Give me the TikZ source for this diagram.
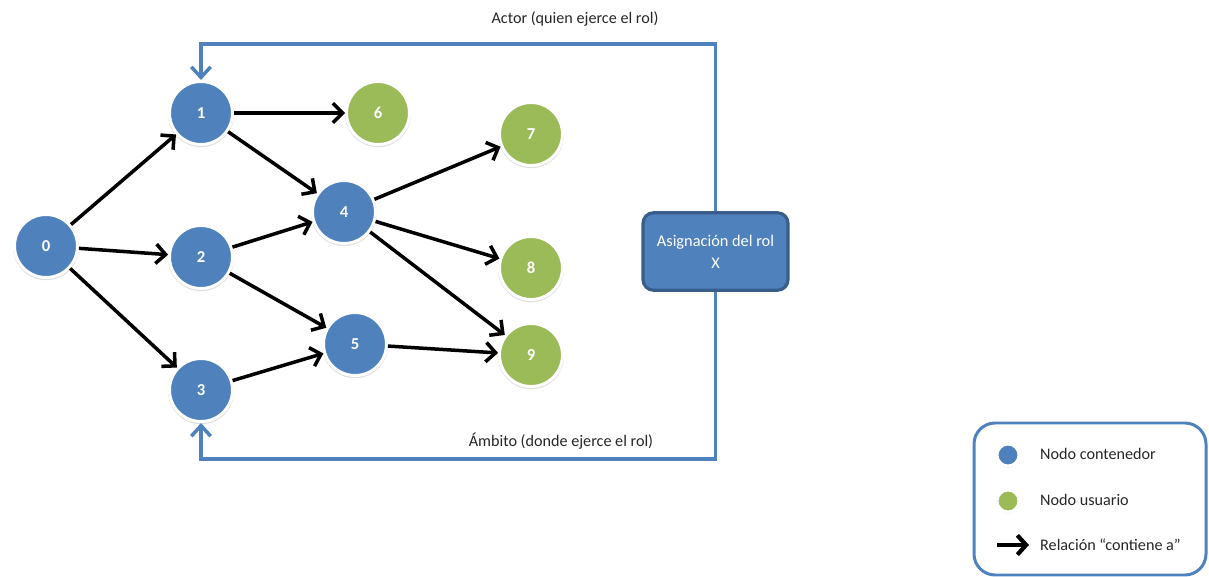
\documentclass[tikz,border=0pt]{standalone}
\usepackage{fontspec}
\setmainfont{Carlito}
\usepackage{tikz}
\usetikzlibrary{arrows.meta}
\usetikzlibrary{shadows}
\definecolor{nodeblue}{HTML}{4F81BD}
\definecolor{nodegreen}{HTML}{9BBB59}
\definecolor{boxedge}{HTML}{385D8A}
\tikzset{
	nodo/.style={circle, draw=white, line width=1.7pt, minimum size=1.26cm, inner sep=0pt,
		text=white, font=\fontsize{9.5}{10}\selectfont\bfseries,
		drop shadow={opacity=0.25, shadow xshift=0pt, shadow yshift=-0.6pt, shadow scale=1.05}},
	contenedor/.style={nodo, fill=nodeblue},
	usuario/.style={nodo, fill=nodegreen},
	contiene/.style={line width=2pt, -{Straight Barb[length=5.5pt, width=11pt]}},
	rolelink/.style={nodeblue, line width=2pt, -{Straight Barb[length=6pt, width=11pt]}},
	etiqueta/.style={font=\fontsize{9.2}{10}\selectfont, text=black!85},
}

\begin{document}
\begin{tikzpicture}[x=0.02cm, y=-0.02cm]
				\useasboundingbox (0,0) rectangle (1209,577);
				% Nodes:
				\node[contenedor](n0) at (46, 246){0};
				\node[contenedor](n1) at (201, 113){1};
				\node[contenedor](n2) at (201, 257){2};
				\node[contenedor](n3) at (201, 390){3};
				\node[contenedor](n4) at (344, 212){4};
				\node[contenedor](n5) at (355, 344){5};
				\node[usuario](n6) at (378, 113){6};
				\node[usuario](n7) at (531, 134){7};
				\node[usuario](n8) at (531, 268){8};
				\node[usuario](n9) at (531, 355){9};
				\node[draw=boxedge, fill=nodeblue, line width=1.8pt, rounded corners=6pt,
					minimum width=2.9cm, minimum height=1.55cm, align=center, text=white,
					font=\fontsize{9.3}{12.5}\selectfont](rol) at (715.5, 251.5){Asignación del rol\\X};
				% Relations:
				\draw[contiene] (n0) -- (n1);
				\draw[contiene] (n0) -- (n2);
				\draw[contiene] (n0) -- (n3);
				\draw[contiene] (n1) -- (n6);
				\draw[contiene] (n1) -- (n4);
				\draw[contiene] (n2) -- (n4);
				\draw[contiene] (n2) -- (n5);
				\draw[contiene] (n3) -- (n5);
				\draw[contiene] (n4) -- (n7);
				\draw[contiene] (n4) -- (n8);
				\draw[contiene] (n4) -- (n9);
				\draw[contiene] (n5) -- (n9);
				% Role assignment wires:
				\coordinate (actor) at (201, 44);
				\coordinate (ambito) at (201, 459);
				\draw[rolelink] (rol.north) |- (actor) -- (n1.north);
				\draw[rolelink] (rol.south) |- (ambito) -- (n3.south);
				\node[etiqueta](tactor) at (575, 19){Actor (quien ejerce el rol)};
				\node[etiqueta](tambito) at (561, 441){Ámbito (donde ejerce el rol)};
				% Legend:
				\draw[nodeblue, line width=1.7pt, rounded corners=12pt] (974, 423) rectangle (1206, 575);
				\node[contenedor, minimum size=0.44cm](lc) at (1008, 455){};
				\node[usuario, minimum size=0.44cm](lu) at (1008, 501){};
				\coordinate (la) at (997, 545);
				\coordinate (lb) at (1029, 545);
				\draw[line width=2.4pt, -{Straight Barb[length=5pt, width=11pt]}] (la) -- (lb);
				\node[etiqueta, anchor=west](tc) at (1034, 454){Nodo contenedor};
				\node[etiqueta, anchor=west](tu) at (1034, 500){Nodo usuario};
				\node[etiqueta, anchor=west](tr) at (1034, 545){Relación “contiene a”};
			\end{tikzpicture}
\end{document}
